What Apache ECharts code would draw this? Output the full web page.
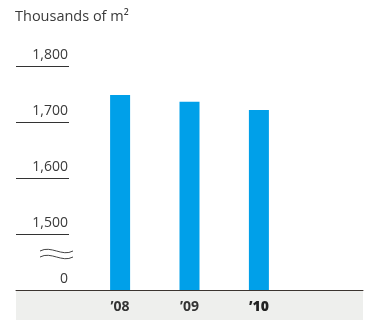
<!DOCTYPE html>
<html><head><meta charset="utf-8">
<script src="https://cdn.jsdelivr.net/npm/echarts@6/dist/echarts.min.js"></script>
<style>html,body{margin:0;padding:0;background:#fff}#c{width:369px;height:320px}</style>
</head><body><div id="c"></div>
<script>
var categories = ['\u201908', '\u201909', '\u201910'];
var values = [1749, 1737, 1722];
var tickValues = [1500, 1600, 1700, 1800];
var axisBase = 1400;
var unitTitle = 'Thousands of m\u00b2';

var cats = [''].concat(categories).concat(['']);
var data = ['-'].concat(values).concat(['-']);
var FONT = '"Open Sans", "Noto Sans", sans-serif';

function wave(y) {
  return {type: 'bezierCurve', shape: {x1: 40, y1: y, x2: 73, y2: y, cpx1: 51, cpy1: y - 6, cpx2: 62, cpy2: y + 6},
    style: {fill: null, stroke: '#444', lineWidth: 1}};
}

var chart = echarts.init(document.getElementById('c'), null, {renderer: 'canvas'});
chart.setOption({
  animation: false,
  backgroundColor: '#fff',
  title: {text: unitTitle, left: 10, top: 4,
    textStyle: {fontFamily: FONT, fontSize: 14.5, fontWeight: 'normal', color: '#3a3a3a'}},
  graphic: [
    {type: 'rect', z: -10, shape: {x: 16, y: 290, width: 347, height: 30}, style: {fill: '#eeefed'}},
    wave(251), wave(257)
  ],
  grid: {left: 16, right: 6, top: 66.5, bottom: 30},
  xAxis: {type: 'category', data: cats,
    axisLine: {show: true, lineStyle: {color: '#3b3430', width: 1}},
    axisTick: {show: false},
    axisLabel: {margin: 10, fontFamily: FONT, fontSize: 14, fontWeight: 'bold', color: '#333',
      formatter: function (v, i) { return i === cats.length - 2 ? '{b|' + v + '}' : v; },
      rich: {b: {fontFamily: FONT, fontSize: 14, fontWeight: 800, color: '#222'}}}
  },
  yAxis: {type: 'value', min: axisBase, max: 1800, interval: 100,
    axisLine: {show: false},
    splitLine: {show: false},
    axisTick: {show: true, inside: true, length: 53, customValues: tickValues, lineStyle: {color: '#333', width: 1}},
    axisLabel: {inside: true, margin: 52, align: 'right', verticalAlign: 'bottom', padding: [0, 0, 4, 0],
      customValues: [axisBase].concat(tickValues),
      fontFamily: FONT, fontSize: 14, color: '#3a3a3a',
      formatter: function (v) { return v === axisBase ? '0' : v.toLocaleString('en-US'); }}
  },
  series: [{type: 'bar', data: data, barWidth: 20, itemStyle: {color: '#00a0e9'}}]
});
</script></body></html>
